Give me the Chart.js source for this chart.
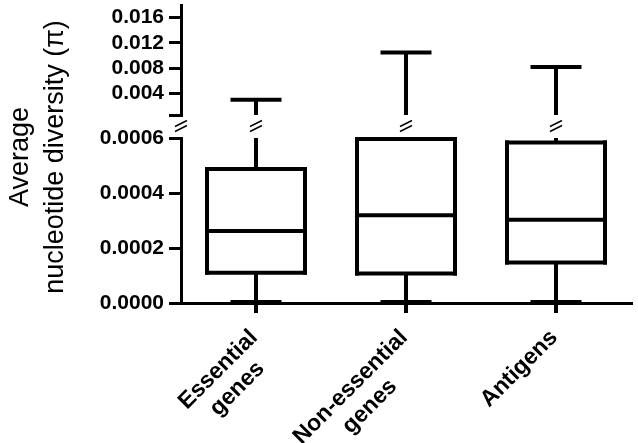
<!DOCTYPE html>
<html>
<head>
<meta charset="utf-8">
<script src="https://cdn.jsdelivr.net/npm/chart.js@4.4.1/dist/chart.umd.min.js"></script>
<style>
  html, body { margin: 0; padding: 0; background: #fff; }
  #wrap { position: relative; width: 638px; height: 443px; }
  #wrap canvas { position: absolute; left: 0; top: 0; }
</style>
</head>
<body>
<div id="wrap">
  <canvas id="lowerChart" width="638" height="443"></canvas>
  <canvas id="upperChart" width="638" height="443"></canvas>
</div>
<script>
// 数据：三组基因的箱线图统计量
const categories = [['Essential', 'genes'], ['Non-essential', 'genes'], ['Antigens']];
const mins = [0, 0, 0];
const q1s = [0.000110, 0.000107, 0.000147];
const medians = [0.000262, 0.000319, 0.000303];
const q3s = [0.000487, 0.000596, 0.000584];
const maxs = [0.0030, 0.0105, 0.0082];

// 断轴：下段和上段的范围与刻度
const lowerRange = [0, 0.0006];
const lowerTicks = [0, 0.0002, 0.0004, 0.0006];
const upperRange = [0.0006, 0.018];
const upperTicks = [0.0006, 0.004, 0.008, 0.012, 0.016];
const yTitleLines = ['Average', 'nucleotide diversity (\u03c0)'];

const FONT = "'Liberation Sans', Arial, sans-serif";
const BOX_FRAC = 0.68;
const LW = 4;

function strokeLine(ctx, x1, y1, x2, y2) {
    ctx.beginPath();
    ctx.moveTo(x1, y1);
    ctx.lineTo(x2, y2);
    ctx.stroke();
}

// 须线、端帽、箱体边框和中位线
const boxPartsPlugin = {
    id: 'boxParts',
    beforeDatasetsDraw(chart) {
        const { ctx, scales: { x, y } } = chart;
        const step = x.getPixelForValue(1) - x.getPixelForValue(0);
        const capHalf = step * BOX_FRAC / 4;
        const clamp = v => Math.min(Math.max(v, y.min), y.max);
        const inRange = v => v >= y.min && v <= y.max;
        ctx.save();
        ctx.strokeStyle = '#000';
        ctx.lineWidth = LW;
        categories.forEach((c, i) => {
            const px = x.getPixelForValue(i);
            const hiA = clamp(q3s[i]), hiB = clamp(maxs[i]);
            if (hiB > hiA) strokeLine(ctx, px, y.getPixelForValue(hiA), px, y.getPixelForValue(hiB));
            if (inRange(maxs[i])) {
                const yy = y.getPixelForValue(maxs[i]);
                strokeLine(ctx, px - capHalf, yy, px + capHalf, yy);
            }
            const loA = clamp(mins[i]), loB = clamp(q1s[i]);
            if (loB > loA) strokeLine(ctx, px, y.getPixelForValue(loA), px, y.getPixelForValue(loB));
            if (inRange(mins[i])) {
                const yy = y.getPixelForValue(mins[i]) - 1;
                strokeLine(ctx, px - capHalf, yy, px + capHalf, yy);
            }
        });
        ctx.restore();
    },
    afterDatasetsDraw(chart) {
        const { ctx, scales: { x, y } } = chart;
        const step = x.getPixelForValue(1) - x.getPixelForValue(0);
        const half = step * BOX_FRAC / 2 - LW / 2;
        const clamp = v => Math.min(Math.max(v, y.min), y.max);
        const inRange = v => v >= y.min && v <= y.max;
        ctx.save();
        ctx.strokeStyle = '#000';
        ctx.lineWidth = LW;
        ctx.lineCap = 'square';
        categories.forEach((c, i) => {
            const px = x.getPixelForValue(i);
            const lo = clamp(q1s[i]), hi = clamp(q3s[i]);
            if (hi <= lo) return;
            const yLo = y.getPixelForValue(lo), yHi = y.getPixelForValue(hi);
            strokeLine(ctx, px - half, yLo, px - half, yHi);
            strokeLine(ctx, px + half, yLo, px + half, yHi);
            if (inRange(q1s[i])) strokeLine(ctx, px - half, yLo, px + half, yLo);
            if (inRange(q3s[i])) strokeLine(ctx, px - half, yHi, px + half, yHi);
            if (inRange(medians[i])) {
                const ym = y.getPixelForValue(medians[i]);
                strokeLine(ctx, px - half, ym, px + half, ym);
            }
        });
        ctx.restore();
    }
};

// 断轴标记 //
const breakMarksPlugin = {
    id: 'breakMarks',
    afterDraw(chart) {
        const { ctx, chartArea, scales: { x } } = chart;
        const yc = chartArea.bottom + 11;
        const xs = [chartArea.left].concat(categories.map((c, i) => x.getPixelForValue(i)));
        ctx.save();
        ctx.strokeStyle = '#000';
        ctx.lineWidth = 1.5;
        xs.forEach(cx => {
            [-2.5, 2.5].forEach(off => {
                strokeLine(ctx, cx - 6, yc + 3 + off, cx + 6, yc - 3 + off);
            });
        });
        ctx.restore();
    }
};

// 纵轴标题（跨越两段）
const yTitlePlugin = {
    id: 'yTitle',
    afterDraw(chart) {
        const ctx = chart.ctx;
        ctx.save();
        ctx.translate(0, 157);
        ctx.rotate(-Math.PI / 2);
        ctx.fillStyle = '#000';
        ctx.font = '27px ' + FONT;
        ctx.textAlign = 'center';
        ctx.textBaseline = 'alphabetic';
        ctx.fillText(yTitleLines[0], 0, 28);
        ctx.fillText(yTitleLines[1], 0, 63);
        ctx.restore();
    }
};

// 斜 45° 的分类标签，多行居中
const xLabelPlugin = {
    id: 'xLabels',
    afterDraw(chart) {
        const { ctx, scales: { x } } = chart;
        ctx.save();
        ctx.fillStyle = '#000';
        ctx.font = 'bold 23px ' + FONT;
        ctx.textAlign = 'center';
        ctx.textBaseline = 'middle';
        chart.data.labels.forEach((lab, i) => {
            const lines = [].concat(lab);
            const w = Math.max(...lines.map(s => ctx.measureText(s).width));
            const px = x.getPixelForTick(i);
            ctx.save();
            ctx.translate(px - 2, x.top + 31);
            ctx.rotate(-Math.PI / 4);
            lines.forEach((s, k) => ctx.fillText(s, -w / 2, k * 27));
            ctx.restore();
        });
        ctx.restore();
    }
};

function makeChart(canvasId, range, ticks, fmt, padding, showX, plugins) {
    const ctx = document.getElementById(canvasId).getContext('2d');
    return new Chart(ctx, {
        type: 'bar',
        data: {
            labels: categories,
            datasets: [{
                data: categories.map((c, i) => [q1s[i], q3s[i]]),
                backgroundColor: '#fff',
                borderWidth: 0,
                barPercentage: BOX_FRAC,
                categoryPercentage: 1
            }]
        },
        options: {
            responsive: false,
            animation: false,
            layout: { padding: padding },
            plugins: { legend: { display: false }, tooltip: { enabled: false } },
            scales: {
                x: {
                    display: showX,
                    offset: true,
                    border: { display: true, color: '#000', width: 3 },
                    grid: { drawOnChartArea: false, drawTicks: true, tickLength: 10, color: '#000', lineWidth: 4, offset: false },
                    ticks: { display: false },
                    afterFit(scale) { if (showX) scale.height = 140; }
                },
                y: {
                    min: range[0],
                    max: range[1],
                    border: { display: true, color: '#000', width: 3 },
                    grid: { drawOnChartArea: false, drawTicks: true, tickLength: 12, color: '#000', lineWidth: 3 },
                    ticks: {
                        color: '#000',
                        font: { family: FONT, size: 21, weight: 'bold' },
                        padding: 5,
                        autoSkip: false,
                        callback: fmt
                    },
                    afterBuildTicks(scale) { scale.ticks = ticks.map(v => ({ value: v })); },
                    afterFit(scale) {
                        scale.width = 181;
                        scale.paddingTop = 0;
                        scale.paddingBottom = 0;
                    }
                }
            }
        },
        plugins: plugins
    });
}

window.onload = function() {
    makeChart('lowerChart', lowerRange, lowerTicks, v => v.toFixed(4),
        { top: 138, right: 7, bottom: 0, left: 0 }, true, [boxPartsPlugin, yTitlePlugin, xLabelPlugin]);
    makeChart('upperChart', upperRange, upperTicks, v => (v < 0.001 ? '' : v.toFixed(3)),
        { top: 5, right: 7, bottom: 328, left: 0 }, false, [boxPartsPlugin, breakMarksPlugin]);
};
</script>
</body>
</html>
